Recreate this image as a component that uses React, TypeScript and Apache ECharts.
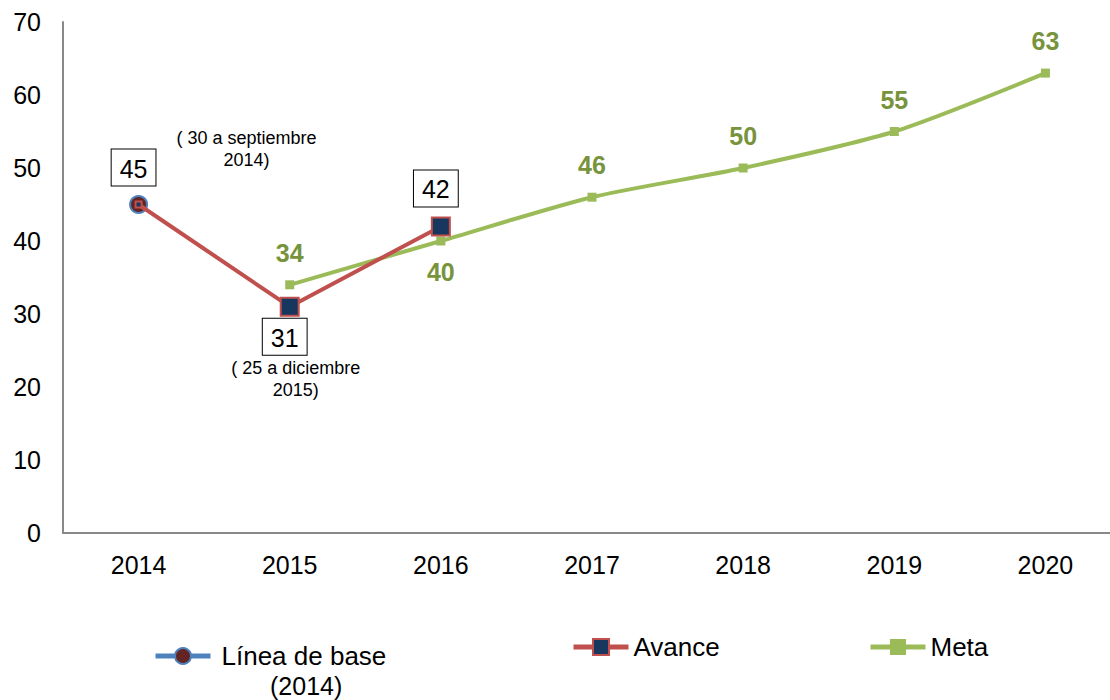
import React, { useEffect, useRef } from "react";
import * as echarts from "echarts";

const years = ["2014", "2015", "2016", "2017", "2018", "2019", "2020"];
const baseValues = [45, null, null, null, null, null, null];
const avanceValues = [45, 31, 42, null, null, null, null];
const metaValues = [null, 34, 40, 46, 50, 55, 63];
const yTicks = [0, 10, 20, 30, 40, 50, 60, 70];
const noteSep = "( 30 a septiembre\n2014)";
const noteDic = "( 25 a diciembre\n2015)";

const FONT = "Liberation Sans, Arial, sans-serif";

export default function App() {
  const ref = useRef<HTMLDivElement>(null);
  useEffect(() => {
    if (!ref.current) return;
    const chart = echarts.init(ref.current, undefined, { renderer: "svg" });
    const boxLabel = (pos: string, distance: number) => ({
      show: true,
      position: pos,
      distance,
      offset: [-5, 0],
      color: "#000",
      fontSize: 25,
      lineHeight: 26,
      fontFamily: FONT,
      backgroundColor: "#fff",
      borderColor: "#000",
      borderWidth: 1,
      padding: [6, 8, 4, 8],
    });
    const metaLabel = (pos: string) => ({
      show: true,
      position: pos,
      distance: pos === "bottom" ? 14 : 15,
      color: "#77933C",
      fontSize: 25,
      fontWeight: "bold",
      fontFamily: FONT,
    });
    const legendText = { fontSize: 26, color: "#000", fontFamily: FONT };
    const legendTextGraphic = {
      type: "text",
      left: 270,
      top: 673,
      style: { text: "(2014)", fontSize: 25, fill: "#000", fontFamily: FONT },
    };
    chart.setOption({
      animation: false,
      textStyle: { fontFamily: FONT },
      grid: {
        left: 63,
        width: 1058,
        top: 22,
        bottom: 167,
        containLabel: false,
        outerBoundsMode: "none",
      },
      xAxis: {
        type: "category",
        data: years,
        boundaryGap: true,
        axisLine: { lineStyle: { color: "#888888", width: 2 } },
        axisTick: { show: false },
        axisLabel: { color: "#000", fontSize: 25, fontFamily: FONT, margin: 19 },
      },
      yAxis: {
        type: "value",
        min: yTicks[0],
        max: yTicks[yTicks.length - 1],
        interval: 10,
        axisLine: { show: true, lineStyle: { color: "#888888", width: 2 } },
        axisTick: { show: false },
        splitLine: { show: false },
        axisLabel: { color: "#000", fontSize: 25, fontFamily: FONT, margin: 22 },
      },
      legend: [
        {
          data: ["Línea de base (2014)"],
          left: 148,
          top: 638,
          itemWidth: 55,
          itemHeight: 20,
          formatter: () => "Línea de base",
          lineStyle: { width: 5 },
          textStyle: { ...legendText, padding: [0, 0, 0, 6] },
        },
        {
          data: ["Avance"],
          left: 566,
          top: 629,
          itemWidth: 55,
          itemHeight: 20,
          lineStyle: { width: 5 },
          textStyle: legendText,
        },
        {
          data: ["Meta"],
          left: 863,
          top: 629,
          itemWidth: 55,
          itemHeight: 20,
          lineStyle: { width: 5 },
          textStyle: legendText,
        },
      ],
      graphic: [legendTextGraphic],
      series: [
        {
          name: "Línea de base (2014)",
          type: "line",
          data: baseValues,
          symbol: "circle",
          symbolSize: 17,
          lineStyle: { color: "#4F81BD", width: 4 },
          itemStyle: { color: "#632523", borderColor: "#4F81BD", borderWidth: 2 },
          z: 3,
        },
        {
          name: "Avance",
          type: "line",
          data: avanceValues.map((v, i) =>
            i === 0
              ? { value: v, symbolSize: 6, label: boxLabel("top", 15) }
              : i === 1
              ? { value: v, label: boxLabel("bottom", 2) }
              : v === null
              ? v
              : { value: v, label: boxLabel("top", 10) }
          ),
          symbol: "rect",
          symbolSize: 18,
          connectNulls: false,
          lineStyle: { color: "#C0504D", width: 4 },
          itemStyle: { color: "#17375E", borderColor: "#C0504D", borderWidth: 2 },
          z: 4,
        },
        {
          name: "Meta",
          type: "line",
          data: metaValues.map((v, i) =>
            v === null ? v : { value: v, label: metaLabel(i === 2 ? "bottom" : "top") }
          ),
          symbol: "rect",
          symbolSize: 9,
          smooth: 0.25,
          lineStyle: { color: "#9BBB59", width: 4 },
          itemStyle: { color: "#9BBB59" },
          z: 2,
        },
      ],
    });
    const p1 = chart.convertToPixel({ gridIndex: 0 }, [0, avanceValues[0]]);
    const p2 = chart.convertToPixel({ gridIndex: 0 }, [1, avanceValues[1]]);
    const note = (text: string, x: number, y: number) => ({
      type: "text",
      x,
      y,
      style: {
        text,
        fontSize: 18,
        lineHeight: 22,
        fill: "#000",
        fontFamily: FONT,
        align: "center",
      },
    });
    chart.setOption({
      graphic: [
        legendTextGraphic,
        note(noteSep, p1[0] + 108, p1[1] - 78),
        note(noteDic, p2[0] + 6, p2[1] + 50),
      ],
    });
    return () => chart.dispose();
  }, []);
  return (
    <div
      ref={ref}
      style={{ position: "absolute", left: 0, top: 0, width: 1110, height: 700, background: "#fff" }}
    />
  );
}
